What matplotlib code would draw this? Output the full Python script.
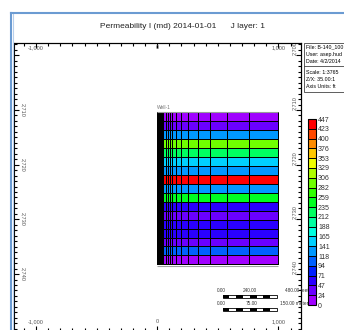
import numpy as np
import matplotlib
matplotlib.use("Agg")
import matplotlib.pyplot as plt
from matplotlib.colors import ListedColormap, BoundaryNorm
from matplotlib.cm import ScalarMappable
from matplotlib.patches import Rectangle
from matplotlib.lines import Line2D
from matplotlib.ticker import MultipleLocator

plt.rcParams["font.family"] = ["Liberation Sans Narrow", "Liberation Sans", "DejaVu Sans"]

W, H = 344, 330

# ---- data ----------------------------------------------------------------
# column edges (ft from the well), log-spaced radial grid
col_edges = [0, 4, 9, 15, 22, 30, 39, 49, 69, 86, 104, 124, 152, 193, 256,
             333, 437, 577, 758, 1000]
# layer boundaries (depth, ft)
layer_edges = [2710.40, 2712.04, 2713.67, 2715.31, 2716.95, 2718.59, 2720.22,
               2721.86, 2723.50, 2725.13, 2726.77, 2728.41, 2730.04, 2731.68,
               2733.32, 2734.96, 2736.59, 2738.23]
# permeability per layer (md), top to bottom
perm = [12, 35, 130, 294, 224, 153, 128, 440, 130, 245, 58, 36, 60, 55, 33, 105, 10]

bins = [0, 24, 47, 71, 94, 118, 141, 165, 188, 212, 235, 259, 282, 306, 329,
        353, 376, 400, 423, 447]
bin_colors = ["#a000ff", "#6a00ff", "#2a00ff", "#0020ff", "#0060ff", "#0098ff",
              "#00d0ff", "#00ffe0", "#00ffa0", "#00ff60", "#00ff20", "#30ff00",
              "#70ff00", "#b0ff00", "#f0ff00", "#ffc800", "#ff8c00", "#ff4800",
              "#ff0000"]

x_ticks = [-1000, 0, 1000]
z_ticks_left = [2710, 2720, 2730, 2740]
z_ticks_right = [2700, 2710, 2720, 2730, 2740]

info_top = ["File: B-140_100", "User: asep.hud", "Date: 4/2/2014"]
info_bottom = ["Scale: 1:3765", "Z/X: 35.00:1", "Axis Units: ft"]

TICK_GREY = "#555555"


def fmt(v):
    return f"{v:,}"


fig = plt.figure(figsize=(W / 100, H / 100), dpi=100)
fig.patch.set_facecolor("white")

# main section axes (pixel box 14..301 x 43..331)
ax = fig.add_axes([14 / W, 1 - 331 / H, (301 - 14) / W, (331 - 43) / H])
ax.set_xlim(-1182, 1186)
ax.set_ylim(2750.42, 2697.74)

cmap = ListedColormap(bin_colors)
norm = BoundaryNorm(bins, cmap.N)
vals = np.repeat(np.array(perm, dtype=float)[:, None], len(col_edges) - 1, axis=1)
ax.pcolormesh(col_edges, layer_edges, vals, cmap=cmap, norm=norm,
              edgecolors="black", linewidth=0.5, antialiased=False)
ax.hlines([layer_edges[0] - 0.12], 0, 1000, color="#9a9a9a", lw=0.8)
ax.hlines([layer_edges[-1] + 0.25], 0, 1000, color="#a0a0a0", lw=0.8)
ax.text(0, layer_edges[0] - 0.4, "Well-1", fontsize=3.5, color="#777777",
        va="bottom", ha="left")

for s in ax.spines.values():
    s.set_linewidth(0.8)

# bottom / left
ax.set_xticks(x_ticks, [fmt(v) for v in x_ticks])
ax.xaxis.set_minor_locator(MultipleLocator(100))
ax.tick_params(axis="x", which="both", direction="in", top=False, bottom=True,
               labelsize=4, labelcolor=TICK_GREY, pad=-8.3)
ax.set_yticks([2700] + z_ticks_left, [""] + [fmt(v) for v in z_ticks_left],
              rotation=270, va="center")
ax.yaxis.set_minor_locator(MultipleLocator(1))
ax.tick_params(axis="y", which="both", direction="in", left=True, right=False,
               labelsize=4, labelcolor=TICK_GREY, pad=-7.9)
ax.tick_params(which="major", length=3.6, width=0.8)
ax.tick_params(which="minor", length=2.2, width=0.8)

# top / right
top = ax.secondary_xaxis("top")
top.set_xticks(x_ticks, [fmt(v) for v in x_ticks])
top.xaxis.set_minor_locator(MultipleLocator(100))
top.tick_params(which="both", direction="in", labelsize=4,
                labelcolor=TICK_GREY, pad=-5.4)
top.tick_params(which="major", length=3.6, width=0.8)
top.tick_params(which="minor", length=2.2, width=0.8)
top.spines["top"].set_linewidth(0.8)

right = ax.secondary_yaxis("right")
right.set_yticks(z_ticks_right, [fmt(v) for v in z_ticks_right],
                 rotation=90, va="bottom")
right.yaxis.set_minor_locator(MultipleLocator(1))
right.tick_params(which="both", direction="in", labelsize=4,
                  labelcolor=TICK_GREY, pad=-6.5)
right.tick_params(which="major", length=3.6, width=0.8)
right.tick_params(which="minor", length=2.2, width=0.8)
right.spines["right"].set_linewidth(0.8)

# scale bars
def scale_bar(y, n=8, x0=540, x1=987, h=0.55):
    step = (x1 - x0) / n
    for i in range(n):
        ax.add_patch(Rectangle((x0 + i * step, y - h / 2), step, h,
                               facecolor="black" if i % 2 == 0 else "white",
                               edgecolor="none"))
    ax.add_patch(Rectangle((x0, y - h / 2), x1 - x0, h, facecolor="none",
                           edgecolor="black", lw=0.6))

scale_bar(2744.2)
scale_bar(2746.4)
kw = dict(fontsize=3.4, color="#333333", va="center")
ax.text(531, 2743.1, "0.00", ha="center", **kw)
ax.text(765, 2743.1, "240.00", ha="center", **kw)
ax.text(1055, 2743.1, "480.00 feet", ha="left", **kw)
ax.text(531, 2745.3, "0.00", ha="center", **kw)
ax.text(777, 2745.3, "75.00", ha="center", **kw)
ax.text(1012, 2745.3, "150.00 meter", ha="left", **kw)

# title
fig.text(182 / W, 1 - 27 / H, "Permeability I (md) 2014-01-01      J layer: 1",
         ha="center", va="center", fontsize=6, color="#222222")

# info box
fig.add_artist(Rectangle((304 / W, 1 - 92 / H), 45 / W, 49 / H,
                         transform=fig.transFigure, facecolor="white",
                         edgecolor="#444444", lw=0.6))
fig.add_artist(Line2D([304 / W, 1], [1 - 66 / H] * 2, color="#444444", lw=0.6))
for i, t in enumerate(info_top):
    fig.text(306 / W, 1 - (47 + 7.2 * i) / H, t, fontsize=3.8, va="center")
for i, t in enumerate(info_bottom):
    fig.text(306 / W, 1 - (72 + 7.2 * i) / H, t, fontsize=3.8, va="center")

# colorbar
cax = fig.add_axes([307.5 / W, 1 - 305 / H, 8.5 / W, 186 / H])
cb = fig.colorbar(ScalarMappable(norm=norm, cmap=cmap), cax=cax, ticks=bins,
                  drawedges=True)
cb.set_ticklabels([str(b) for b in bins])
cb.ax.tick_params(length=0, pad=1.5, labelsize=5, labelcolor="#333333")
cb.outline.set_linewidth(0.8)
cb.dividers.set_linewidth(0.7)

# window frame
fig.add_artist(Line2D([11 / W, 11 / W], [0, 1 - 13 / H], color="#6b9bd2", lw=1.5))
fig.add_artist(Line2D([12.6 / W, 12.6 / W], [0, 1 - 14 / H], color="#b8d0ec", lw=0.8))
fig.add_artist(Line2D([11 / W, 1], [1 - 13 / H] * 2, color="#6b9bd2", lw=1.5))

fig.savefig("out.png", dpi=100)
